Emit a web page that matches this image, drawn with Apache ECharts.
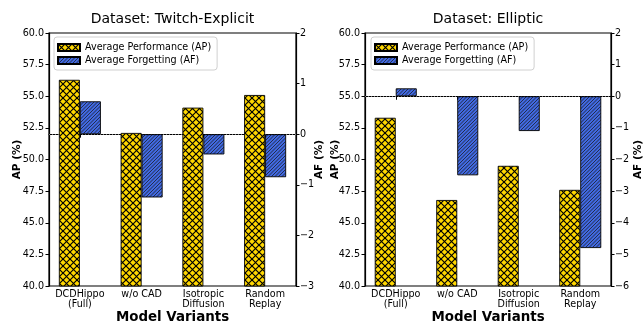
<!DOCTYPE html>
<html><head><meta charset="utf-8">
<script src="https://cdn.jsdelivr.net/npm/echarts@6/dist/echarts.min.js"></script>
<style>html,body{margin:0;padding:0;background:#fff}#c{width:644px;height:323px}</style>
</head><body><div id="c"></div>
<script>
const categories = ['DCDHippo\n(Full)', 'w/o CAD', 'Isotropic\nDiffusion', 'Random\nReplay'];
const twitchAP = [56.3, 52.1, 54.1, 55.1];
const twitchAF = [0.65, -1.25, -0.40, -0.85];
const ellipticAP = [53.3, 46.8, 49.5, 47.6];
const ellipticAF = [0.25, -2.5, -1.1, -4.8];
const titles = ['Dataset: Twitch-Explicit', 'Dataset: Elliptic'];
const seriesNames = ['Average Performance (AP)', 'Average Forgetting (AF)'];
const apRange = [40, 60, 2.5];
const afRanges = [[-3, 2, 1], [-6, 2, 1]];

const FONT = 'DejaVu Sans';
function crossHatch(bg, s, lw) {
  const c = document.createElement('canvas'); c.width = s; c.height = s;
  const g = c.getContext('2d'); g.fillStyle = bg; g.fillRect(0, 0, s, s);
  g.strokeStyle = '#000'; g.lineWidth = lw;
  for (let k = -1; k <= 1; k++) {
    g.beginPath(); g.moveTo(k * s, 0); g.lineTo(k * s + s, s); g.stroke();
    g.beginPath(); g.moveTo(k * s, s); g.lineTo(k * s + s, 0); g.stroke();
  }
  return c;
}
function diagHatch(bg, s, n, lw) {
  const c = document.createElement('canvas'); c.width = s; c.height = s;
  const g = c.getContext('2d'); g.fillStyle = bg; g.fillRect(0, 0, s, s);
  g.strokeStyle = '#1a1a1a'; g.lineWidth = lw;
  const step = s / n;
  for (let k = -n - 1; k <= n + 1; k++) {
    g.beginPath(); g.moveTo(k * step, s); g.lineTo(k * step + s, 0); g.stroke();
  }
  return c;
}
const goldPat = { image: crossHatch('#FFD700', 7, 1.15), repeat: 'repeat' };
const bluePat = { image: diagHatch('#4169E1', 7, 2, 0.75), repeat: 'repeat' };
const minus = v => String(v).replace('-', '\u2212');

const grids = [
  { left: 49, top: 33, width: 247, height: 253 },
  { left: 365, top: 33, width: 246, height: 253 }
];
const legendLefts = [54, 371];
const apNameGaps = [26, 24.5];
const afNameGaps = [18, 21.5];
const apData = [twitchAP, ellipticAP];
const afData = [twitchAF, ellipticAF];

const option = {
  animation: false,
  backgroundColor: '#fff',
  title: [], legend: [], grid: [], xAxis: [], yAxis: [], series: []
};
for (let i = 0; i < 2; i++) {
  const gr = grids[i];
  option.grid.push(Object.assign({ show: true, borderColor: '#000', borderWidth: 1.2, backgroundColor: 'transparent', containLabel: false, outerBoundsMode: 'none' }, gr));
  option.title.push({
    text: titles[i], left: gr.left + gr.width / 2, top: 11, textAlign: 'center', padding: 0,
    textStyle: { fontFamily: FONT, fontSize: 14, fontWeight: 'normal', color: '#000', lineHeight: 16 }
  });
  option.legend.push({
    data: seriesNames, orient: 'vertical', left: legendLefts[i], top: 37,
    padding: [4, 6, 3, 3], itemGap: 0, itemWidth: 22, itemHeight: 7, icon: 'rect',
    borderColor: '#d0d0d0', borderWidth: 1, borderRadius: 3, backgroundColor: 'rgba(255,255,255,0.85)',
    selectedMode: false,
    textStyle: { fontFamily: FONT, fontSize: 9.6, color: '#000', lineHeight: 13, height: 13 }
  });
  option.xAxis.push({
    type: 'category', gridIndex: i, data: categories,
    name: 'Model Variants', nameLocation: 'middle', nameGap: 25, nameMoveOverlap: false,
    nameTextStyle: { fontFamily: FONT, fontSize: 13.4, fontWeight: 'bold', color: '#000' },
    axisLine: { lineStyle: { color: '#000', width: 1.2 } },
    axisTick: { show: true, alignWithLabel: true, length: 3.5, lineStyle: { color: '#000' } },
    axisLabel: { interval: 0, margin: 3, fontFamily: FONT, fontSize: 9.6, color: '#000', lineHeight: 10.5 },
    splitLine: { show: false }
  });
  option.yAxis.push({
    type: 'value', gridIndex: i, position: 'left', min: apRange[0], max: apRange[1], interval: apRange[2],
    name: 'AP (%)', nameLocation: 'middle', nameGap: apNameGaps[i], nameRotate: 90, nameMoveOverlap: false,
    nameTextStyle: { fontFamily: FONT, fontSize: 10.5, fontWeight: 'bold', color: '#000' },
    axisLine: { show: true, lineStyle: { color: '#000', width: 1.2 } },
    axisTick: { show: true, length: 3.5, lineStyle: { color: '#000' } },
    axisLabel: { margin: 5, fontFamily: FONT, fontSize: 9.6, color: '#000', formatter: v => v.toFixed(1) },
    splitLine: { show: false }
  });
  const af = afRanges[i];
  option.yAxis.push({
    type: 'value', gridIndex: i, position: 'right', min: af[0], max: af[1], interval: af[2],
    name: 'AF (%)', nameLocation: 'middle', nameGap: afNameGaps[i], nameRotate: 90, nameMoveOverlap: false,
    nameTextStyle: { fontFamily: FONT, fontSize: 10.5, fontWeight: 'bold', color: '#000' },
    axisLine: { show: true, lineStyle: { color: '#000', width: 1.2 } },
    axisTick: { show: true, length: 3.5, lineStyle: { color: '#000' } },
    axisLabel: { margin: 4, fontFamily: FONT, fontSize: 9.6, color: '#000', formatter: v => minus(v) },
    splitLine: { show: false }
  });
  option.series.push({
    name: seriesNames[0], type: 'bar', xAxisIndex: i, yAxisIndex: 2 * i, data: apData[i],
    barWidth: 21, barGap: '0%', z: 3,
    itemStyle: { color: goldPat, borderColor: '#000', borderWidth: 0.9 }
  });
  option.series.push({
    name: seriesNames[1], type: 'bar', xAxisIndex: i, yAxisIndex: 2 * i + 1, data: afData[i],
    barWidth: 21, barGap: '0%', z: 3,
    itemStyle: { color: bluePat, borderColor: '#000', borderWidth: 0.9 },
    markLine: {
      z: 1, silent: true, symbol: ['none', 'none'], label: { show: false },
      lineStyle: { color: '#999', type: [1, 2], width: 0.8 },
      data: [{ yAxis: 0 }]
    }
  });
}
const chart = echarts.init(document.getElementById('c'), null, { renderer: 'canvas' });
chart.setOption(option);
</script>
</body></html>
